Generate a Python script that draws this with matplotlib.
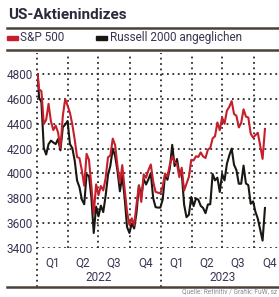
import numpy as np
import pandas as pd
import matplotlib
matplotlib.use("Agg")
import matplotlib.pyplot as plt
from matplotlib.lines import Line2D
from matplotlib.patches import Rectangle

plt.rcParams['font.family'] = ['Liberation Sans Narrow', 'DejaVu Sans Condensed', 'Roboto', 'DejaVu Sans']
plt.rcParams['font.stretch'] = 'condensed'

# weekly closes, Jan 2022 - early Nov 2023
spx = [4797, 4677, 4662, 4398, 4432, 4560, 4419, 4349, 4385, 4329, 4204, 4463, 4600,
       4546, 4488, 4393, 4272, 4132, 4123, 4024, 3901, 4158, 4109, 3901, 3675, 3912,
       3825, 3899, 3863, 3962, 4130, 4145, 4280, 4228, 4058, 3924, 4067, 3873, 3693,
       3586, 3639, 3583, 3752, 3901, 3771, 3993, 3965, 4026, 4072, 3934, 3852, 3845,
       3840,
       3895, 3999, 3973, 4071, 4136, 4090, 4079, 3970, 4046, 3862, 3917, 3971, 4109,
       4105, 4138, 4133, 4169, 4136, 4124, 4192, 4205, 4282, 4299, 4410, 4348, 4450,
       4399, 4505, 4536, 4582, 4478, 4464, 4370, 4406, 4516, 4457, 4450, 4320, 4288,
       4308, 4327, 4224, 4117, 4358]

# Russell 2000, rescaled to the S&P 500 start level
rty = [4797, 4611, 4573, 4205, 4152, 4236, 4264, 4249, 4236, 4277, 4186, 4372, 4393,
       4422, 4236, 4203, 4103, 3942, 3889, 3790, 3752, 3991, 3980, 3807, 3521, 3733,
       3655, 3741, 3689, 3820, 3987, 4063, 4200, 4139, 4019, 3856, 3980, 3803, 3570,
       3521, 3598, 3557, 3684, 3904, 3809, 3957, 3911, 3953, 4002, 3801, 3729, 3725,
       3725,
       3790, 3991, 3949, 4042, 4230, 4059, 4116, 3997, 4006, 3750, 3648, 3667, 3811,
       3737, 3799, 3788, 3739, 3722, 3680, 3750, 3752, 3995, 3944, 3966, 3851, 3995,
       3944, 4078, 4145, 4200, 4069, 4027, 3917, 3917, 4063, 3919, 3906, 3756, 3775,
       3691, 3636, 3547, 3460, 3722]

dates = pd.DatetimeIndex(['2022-01-03']).append(
    pd.date_range('2022-01-07', '2023-11-03', freq='W-FRI'))

yticks = [3400, 3600, 3800, 4000, 4200, 4400, 4600, 4800]
quarters = ['Q1', 'Q2', 'Q3', 'Q4']
years = ['2022', '2023']

W, H = 279, 297
fig = plt.figure(figsize=(W / 100, H / 100), dpi=100)
fig.patch.set_facecolor('white')

ax = fig.add_axes([37 / W, 1 - 248 / H, 248 / W, 195 / H])
ax.set_xlim(pd.Timestamp('2022-01-01'), pd.Timestamp('2024-01-01'))
ax.set_ylim(3400, 4969)
for s in ax.spines.values():
    s.set_visible(False)

grid = '#2e2a26'
dot = (0, (1, 2))
for v in yticks:
    ax.axhline(v, color=grid, lw=1.3, ls=dot, zorder=1)
qstarts = pd.date_range('2022-01-01', '2024-01-01', freq='QS')
for d in qstarts:
    if d.month == 1:
        ax.plot([d, d], [-0.2, 1], color=grid, lw=1.3, ls=dot,
                transform=ax.get_xaxis_transform(), clip_on=False, zorder=1)
    else:
        ax.plot([d, d], [0, 1], color=grid, lw=1.3, ls=dot,
                transform=ax.get_xaxis_transform(), zorder=1)

ax.plot(dates, spx, color='#c41f2b', lw=1.5, zorder=3)
ax.plot(dates, rty, color='#1a1612', lw=1.5, zorder=2)

ax.set_yticks(yticks)
ax.set_yticklabels([str(v) for v in yticks], fontsize=8.5, color='#3a3552')
ax.tick_params(axis='y', length=0, pad=3)

mids = [qstarts[i] + (qstarts[i + 1] - qstarts[i]) / 2 for i in range(8)]
ax.set_xticks(mids)
ax.set_xticklabels(quarters * 2, fontsize=8.5, color='#3a3552')
ax.tick_params(axis='x', length=0, pad=6)
for i, y in enumerate(years):
    ax.text(pd.Timestamp(f'{y}-07-01'), -0.15, y, transform=ax.get_xaxis_transform(),
            ha='center', va='center', fontsize=8.5, color='#3a3552')

# header, legend, rules
rule = '#4a4239'
fig.text(8 / W, 1 - 15 / H, 'US-Aktienindizes', fontsize=11, fontweight='bold',
         color='#2a2a3a', va='center', ha='left')
for yy in (28, 50, 287):
    fig.add_artist(Line2D([7 / W, 1], [1 - yy / H] * 2, color=rule, lw=1.8))
fig.add_artist(Rectangle((7 / W, 1 - 40 / H), 11 / W, 4 / H, color='#c41f2b'))
fig.text(20 / W, 1 - 37.5 / H, 'S&P 500', fontsize=8.5, color='#3a3552', va='center')
fig.add_artist(Rectangle((96 / W, 1 - 40 / H), 11 / W, 4 / H, color='#1a1612'))
fig.text(110 / W, 1 - 37.5 / H, 'Russell 2000 angeglichen', fontsize=8.5,
         color='#3a3552', va='center')
fig.text(277 / W, 1 - 293 / H, 'Quelle: Refinitiv / Grafik: FuW, sz', fontsize=4.8,
         color='#8a8a9a', va='center', ha='right')

fig.savefig('out.png', dpi=100)
